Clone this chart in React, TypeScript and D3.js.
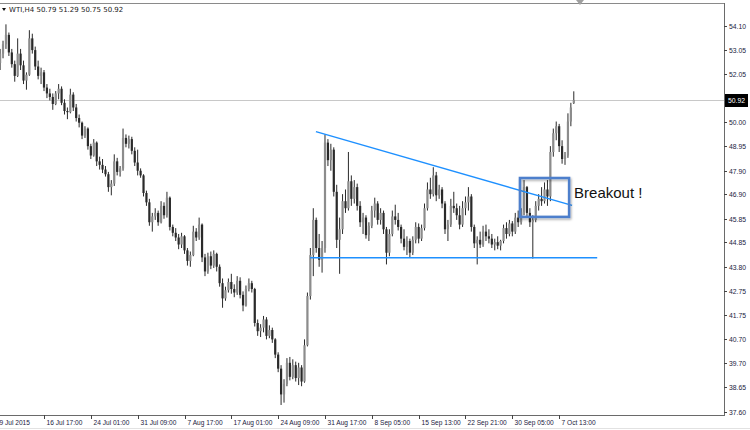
import React from "react";
import * as d3 from "d3";

const openP = [
  52.50, 52.90, 53.30, 53.70, 52.95, 52.45, 51.95, 52.90, 52.40, 51.75,
  52.00, 53.55, 53.05, 52.35, 51.95, 52.10, 51.45, 51.20, 51.05, 50.75,
  51.20, 51.40, 50.80, 50.45, 50.40, 51.15, 50.60, 50.15, 49.95, 49.40,
  49.70, 48.95, 48.55, 49.10, 48.30, 48.15, 47.95, 47.75, 47.20, 47.35,
  48.30, 47.85, 48.00, 49.30, 49.05, 49.25, 48.75, 48.25, 47.90, 47.70,
  46.95, 46.55, 45.70, 45.95, 46.10, 45.70, 46.40, 46.00, 46.75, 45.50,
  45.25, 45.05, 44.75, 45.10, 44.50, 44.05, 44.30, 45.30, 45.05, 45.60,
  44.20, 43.60, 44.25, 43.85, 44.35, 43.80, 43.10, 42.45, 42.80, 43.15,
  42.85, 42.70, 43.20, 42.60, 42.15, 42.85, 43.10, 42.85, 41.40, 41.05,
  41.20, 41.55, 40.85, 41.10, 40.70, 40.05, 39.45, 38.35, 38.80, 39.70,
  39.10, 39.60, 39.05, 39.50, 38.90, 40.45, 42.55, 44.30, 45.80, 44.60,
  44.10, 44.60, 49.10, 48.35, 48.80, 47.00, 44.95, 45.40, 46.60, 46.30,
  47.45, 46.70, 47.20, 46.40, 45.70, 45.90, 45.15, 45.55, 46.20, 46.50,
  45.80, 46.10, 45.40, 44.40, 45.20, 45.95, 45.80, 45.50, 45.00, 44.65,
  44.90, 44.40, 44.95, 45.50, 45.00, 45.45, 46.30, 47.10, 46.90, 47.70,
  46.85, 47.10, 46.50, 45.40, 45.60, 46.40, 46.30, 46.00, 45.60, 46.30,
  46.55, 46.80, 45.50, 44.80, 44.95, 44.75, 45.30, 45.10, 45.00, 44.75,
  44.85, 44.70, 44.90, 45.45, 45.20, 45.65, 45.30, 45.90, 45.70, 46.15,
  47.20, 46.10, 45.70, 45.80, 46.40, 46.70, 46.60, 47.10, 46.80, 48.70,
  49.50, 49.80, 48.95, 48.40, 48.55, 50.00, 50.79,
];

const highP = [
  53.10, 53.45, 54.15, 53.80, 53.10, 52.60, 53.55, 53.10, 52.60, 52.10,
  53.90, 53.75, 53.20, 52.60, 52.30, 52.20, 51.60, 51.40, 51.20, 51.30,
  51.60, 51.50, 50.95, 50.60, 51.40, 51.25, 50.75, 50.30, 50.00, 49.80,
  49.75, 49.05, 49.25, 49.15, 48.50, 48.40, 48.10, 47.85, 47.50, 48.60,
  48.45, 48.10, 49.70, 49.45, 49.40, 49.35, 48.90, 48.80, 48.00, 47.75,
  47.05, 46.70, 46.10, 46.30, 46.20, 46.60, 46.55, 47.00, 46.80, 45.60,
  45.45, 45.20, 45.25, 45.15, 44.60, 44.45, 45.55, 45.45, 45.90, 45.65,
  44.35, 44.40, 44.45, 44.50, 44.40, 43.90, 43.30, 42.95, 43.30, 43.50,
  43.05, 43.40, 43.35, 42.75, 43.00, 43.30, 43.20, 42.90, 41.55, 41.35,
  41.70, 41.65, 41.30, 41.20, 40.75, 40.15, 39.60, 39.00, 39.90, 39.95,
  39.85, 39.75, 39.70, 39.60, 40.70, 42.70, 44.60, 46.30, 45.90, 45.20,
  44.90, 49.45, 49.25, 49.05, 48.90, 47.30, 45.90, 46.90, 47.10, 48.70,
  47.70, 47.50, 47.35, 46.60, 46.10, 46.00, 45.70, 46.40, 46.75, 46.60,
  46.30, 46.20, 45.50, 45.40, 46.20, 46.45, 46.10, 45.60, 45.40, 45.10,
  45.00, 45.10, 45.70, 45.65, 45.60, 46.50, 47.40, 47.60, 48.05, 47.85,
  47.30, 47.20, 46.60, 45.80, 46.70, 47.00, 46.50, 46.40, 46.60, 46.80,
  47.20, 46.90, 45.60, 45.10, 45.30, 45.55, 45.60, 45.40, 45.20, 45.00,
  45.10, 44.95, 45.60, 45.70, 45.80, 45.75, 46.10, 46.20, 46.30, 47.50,
  47.25, 46.30, 46.00, 46.60, 46.90, 47.20, 47.40, 47.50, 48.95, 49.70,
  50.00, 49.90, 49.20, 48.70, 50.35, 50.80, 51.29,
];

const lowP = [
  52.20, 52.70, 53.10, 52.80, 52.30, 51.70, 51.90, 52.20, 51.60, 51.36,
  51.95, 52.90, 52.20, 51.80, 51.60, 51.30, 51.00, 50.90, 50.50, 50.70,
  50.95, 50.70, 50.30, 50.10, 50.35, 50.45, 50.00, 49.75, 49.25, 49.30,
  48.80, 48.40, 48.50, 48.10, 47.95, 47.80, 47.65, 47.00, 46.85, 47.25,
  47.70, 47.65, 47.90, 48.90, 48.85, 48.60, 48.10, 47.70, 47.60, 46.80,
  46.40, 45.55, 45.30, 45.80, 45.55, 45.65, 45.85, 45.90, 45.35, 45.10,
  44.90, 44.55, 44.60, 44.35, 43.85, 43.80, 44.25, 44.90, 44.95, 44.00,
  43.40, 43.50, 43.70, 43.75, 43.60, 42.95, 42.05, 42.35, 42.70, 42.65,
  42.50, 42.60, 42.45, 41.90, 42.10, 42.75, 42.70, 41.25, 40.85, 40.80,
  41.00, 40.70, 40.75, 40.55, 39.90, 39.30, 37.90, 38.00, 38.70, 38.95,
  39.00, 38.90, 38.75, 38.70, 38.85, 40.40, 42.40, 43.40, 44.40, 43.80,
  43.55, 44.40, 48.10, 47.90, 46.80, 44.60, 43.50, 45.20, 46.10, 46.20,
  46.40, 46.50, 46.20, 45.50, 45.20, 45.00, 44.90, 45.45, 45.90, 45.60,
  45.60, 45.20, 43.90, 44.25, 45.10, 45.60, 45.35, 44.80, 44.50, 44.30,
  44.20, 44.30, 44.80, 44.80, 44.90, 45.35, 46.20, 46.70, 46.80, 46.60,
  46.70, 46.30, 45.20, 44.90, 45.50, 46.10, 45.80, 45.40, 45.50, 46.00,
  46.20, 45.30, 44.60, 43.90, 44.60, 44.65, 44.90, 44.80, 44.60, 44.50,
  44.55, 44.50, 44.80, 45.00, 45.10, 45.10, 45.20, 45.50, 45.60, 46.00,
  45.90, 45.50, 44.15, 45.70, 46.20, 46.40, 46.50, 46.40, 46.60, 48.50,
  49.20, 48.70, 48.20, 48.15, 48.45, 49.80, 50.75,
];

const closeP = [
  52.90, 53.30, 53.70, 52.95, 52.45, 51.95, 52.90, 52.40, 51.75, 52.00,
  53.55, 53.05, 52.35, 51.95, 52.10, 51.45, 51.20, 51.05, 50.75, 51.20,
  51.40, 50.80, 50.45, 50.40, 51.15, 50.60, 50.15, 49.95, 49.40, 49.70,
  48.95, 48.55, 49.10, 48.30, 48.15, 47.95, 47.75, 47.20, 47.35, 48.30,
  47.85, 48.00, 49.30, 49.05, 49.25, 48.75, 48.25, 47.90, 47.70, 46.95,
  46.55, 45.70, 45.95, 46.10, 45.70, 46.40, 46.00, 46.75, 45.50, 45.25,
  45.05, 44.75, 45.10, 44.50, 44.05, 44.30, 45.30, 45.05, 45.60, 44.20,
  43.60, 44.25, 43.85, 44.35, 43.80, 43.10, 42.45, 42.80, 43.15, 42.85,
  42.70, 43.20, 42.60, 42.15, 42.85, 43.10, 42.85, 41.40, 41.05, 41.20,
  41.55, 40.85, 41.10, 40.70, 40.05, 39.45, 38.35, 38.80, 39.70, 39.10,
  39.60, 39.05, 39.50, 38.90, 40.45, 42.55, 44.30, 45.80, 44.60, 44.10,
  44.60, 49.10, 48.35, 48.80, 47.00, 44.95, 45.40, 46.60, 46.30, 47.45,
  46.70, 47.20, 46.40, 45.70, 45.90, 45.15, 45.55, 46.20, 46.50, 45.80,
  46.10, 45.40, 44.40, 45.20, 45.95, 45.80, 45.50, 45.00, 44.65, 44.90,
  44.40, 44.95, 45.50, 45.00, 45.45, 46.30, 47.10, 46.90, 47.70, 46.85,
  47.10, 46.50, 45.40, 45.60, 46.40, 46.30, 46.00, 45.60, 46.30, 46.55,
  46.80, 45.50, 44.80, 44.95, 44.75, 45.30, 45.10, 45.00, 44.75, 44.85,
  44.70, 44.90, 45.45, 45.20, 45.65, 45.30, 45.90, 45.70, 46.15, 47.20,
  46.10, 45.70, 45.80, 46.40, 46.70, 46.60, 47.10, 46.80, 48.70, 49.50,
  49.80, 48.95, 48.40, 48.55, 50.00, 50.60, 50.92,
];

const xTickIndex = [-1, 15, 31, 47, 63, 79, 95, 111, 127, 143, 159, 175, 191];
const xTickLabels = [
  "9 Jul 2015", "16 Jul 17:00", "24 Jul 01:00", "31 Jul 09:00", "7 Aug 17:00",
  "17 Aug 01:00", "24 Aug 09:00", "31 Aug 17:00", "8 Sep 05:00", "15 Sep 13:00",
  "22 Sep 21:00", "30 Sep 05:00", "7 Oct 13:00",
];
const yTickValues = [
  54.10, 53.05, 52.05, 50.00, 48.95, 47.90, 46.90, 45.85, 44.85,
  43.80, 42.75, 41.75, 40.70, 39.70, 38.65, 37.60,
];

const symbolTitle = "WTI,H4";
const lastPrice = 50.92;
const supportLine = { i0: 105.9, i1: 204, price: 44.18 };
const resistLine = { i0: 107.9, p0: 49.57, i1: 195.4, p1: 46.42 };
const breakoutBox = { i0: 177.6, i1: 194.4, pTop: 47.59, pBot: 45.93 };
const breakoutText = "Breakout !";
const breakoutTextPos = { i: 196.1, price: 46.74 };

const W = 750;
const H = 430;
const PLOT_R = 724;
const PLOT_B = 415;
const PLOT_T = 3;

export default function App() {
  const n = closeP.length;
  const x = d3.scaleLinear().domain([0, 196]).range([0.1, 0.1 + 196 * 2.927]);
  const y = d3.scaleLinear().domain([37.6, 54.1]).range([412, 25.5]);
  const font = "Tahoma, 'DejaVu Sans', 'Liberation Sans', sans-serif";
  const axisFont = "'Liberation Sans', Arial, sans-serif";

  const candles = d3.range(n).map((i) => {
    const cx = x(i);
    const o = openP[i];
    const c = closeP[i];
    const bull = c >= o;
    const top = y(Math.max(o, c));
    const bot = y(Math.min(o, c));
    return (
      <g key={i}>
        <line x1={cx} x2={cx} y1={y(highP[i])} y2={y(lowP[i])} stroke="#2a2a2a" strokeWidth={1} />
        <rect
          x={cx - 1.1}
          y={top}
          width={2.2}
          height={Math.max(1, bot - top)}
          fill={bull ? "#8c8c8c" : "#2a2a2a"}
        />
      </g>
    );
  });

  return (
    <svg
      width={W}
      height={H}
      style={{ position: "absolute", left: 0, top: 0, background: "#fff" }}
    >
      <rect x={0} y={0} width={W} height={H} fill="#fff" />
      <defs>
        <clipPath id="plot">
          <rect x={0} y={PLOT_T} width={PLOT_R} height={PLOT_B - PLOT_T} />
        </clipPath>
        <filter id="shadow" x="-10%" y="-10%" width="130%" height="130%">
          <feDropShadow dx="1" dy="1.5" stdDeviation="1" floodColor="#000" floodOpacity="0.35" />
        </filter>
      </defs>

      {/* current price line */}
      <line x1={0} x2={PLOT_R} y1={Math.round(y(lastPrice)) + 0.5} y2={Math.round(y(lastPrice)) + 0.5} stroke="#c8c8c8" strokeWidth={1} />

      <g clipPath="url(#plot)">{candles}</g>

      {/* support and resistance */}
      <line
        x1={x(supportLine.i0)}
        x2={x(supportLine.i1)}
        y1={y(supportLine.price)}
        y2={y(supportLine.price)}
        stroke="#1e90ff"
        strokeWidth={1.5}
      />
      <line
        x1={x(resistLine.i0)}
        x2={x(resistLine.i1)}
        y1={y(resistLine.p0)}
        y2={y(resistLine.p1)}
        stroke="#1e90ff"
        strokeWidth={1.5}
      />

      {/* breakout box */}
      <rect
        x={x(breakoutBox.i0)}
        y={y(breakoutBox.pTop)}
        width={x(breakoutBox.i1) - x(breakoutBox.i0)}
        height={y(breakoutBox.pBot) - y(breakoutBox.pTop)}
        fill="none"
        stroke="#4d7fcc"
        strokeWidth={2.5}
        filter="url(#shadow)"
      />
      <text
        x={x(breakoutTextPos.i)}
        y={y(breakoutTextPos.price)}
        fontFamily="'Liberation Sans', Arial, sans-serif"
        fontSize={15}
        fill="#111"
      >
        {breakoutText}
      </text>

      {/* frame */}
      <line x1={0} x2={PLOT_R} y1={PLOT_T + 0.5} y2={PLOT_T + 0.5} stroke="#8a8a8a" />
      <line x1={PLOT_R + 0.5} x2={PLOT_R + 0.5} y1={PLOT_T} y2={PLOT_B + 1} stroke="#6a6a6a" />
      <line x1={0} x2={PLOT_R + 1} y1={PLOT_B + 0.5} y2={PLOT_B + 0.5} stroke="#6a6a6a" />
      <line x1={0} x2={W} y1={428.5} y2={428.5} stroke="#e2e2e2" />

      {/* chart shift marker */}
      <path d="M576,0 L584,0 L580,5 Z" fill="#a0a0a0" />

      {/* title */}
      <path d="M2,8 L6,8 L4,11 Z" fill="#111" />
      <text x={9} y={12} fontFamily={font} fontSize={7} fill="#1a1a1a">
        {`${symbolTitle}  ${openP[n - 1].toFixed(2)} ${highP[n - 1].toFixed(2)} ${lowP[n - 1].toFixed(2)} ${closeP[n - 1].toFixed(2)}`}
      </text>

      {/* y axis */}
      {yTickValues.map((v) => {
        const yy = Math.round(y(v)) + 0.5;
        return (
          <g key={v}>
            <line x1={PLOT_R} x2={PLOT_R + 3} y1={yy} y2={yy} stroke="#444" />
            <text x={729} y={yy + 2.5} fontFamily={axisFont} fontSize={6.8} fill="#1a1a40">
              {v.toFixed(2)}
            </text>
          </g>
        );
      })}
      {/* last price tag */}
      <rect x={725} y={Math.round(y(lastPrice)) - 6} width={23} height={13} fill="#000" />
      <text x={728} y={Math.round(y(lastPrice)) + 3} fontFamily={axisFont} fontSize={6.8} fill="#fff">
        {lastPrice.toFixed(2)}
      </text>

      {/* x axis */}
      {xTickIndex.map((ix, k) => {
        const xx = Math.round(x(ix)) + 0.5;
        return (
          <g key={k}>
            <line x1={xx} x2={xx} y1={PLOT_B} y2={PLOT_B + 4} stroke="#444" />
            <text x={xx + 2} y={425} fontFamily={axisFont} fontSize={6.6} fill="#1a1a40">
              {xTickLabels[k]}
            </text>
          </g>
        );
      })}
    </svg>
  );
}
